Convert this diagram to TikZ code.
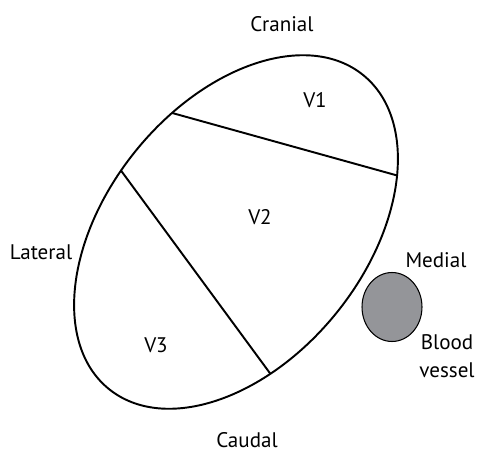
\documentclass[tikz,border=0pt]{standalone}
\usepackage{fontspec}
\setmainfont{PT Sans}
\usepackage{tikz}
\usepackage{xcolor}
\usetikzlibrary{positioning, shapes.geometric}

\definecolor{vesselgray}{RGB}{148,149,153}

\begin{document}
\begin{tikzpicture}[x=0.02cm, y=0.02cm, line width=1.1pt, font=\fontsize{12}{14}\selectfont]
    \useasboundingbox (0,0) rectangle (477,451);

    % Nerve outline and division points
    \begin{scope}[shift={(236,219)}, rotate=51]
        \draw (0,0) ellipse (202 and 129);
        \coordinate (a1) at (75:202 and 129);
        \coordinate (b1) at (-44:202 and 129);
        \coordinate (a2) at (97:202 and 129);
        \coordinate (b2) at (244:202 and 129);
    \end{scope}

    % Blood vessel
    \node[ellipse, draw, line width=0.6pt, fill=vesselgray, minimum width=1.2cm, minimum height=1.38cm, inner sep=0pt] (vessel) at (392,144) {};

    % Labels
    \node (cranial) at (282,427) {Cranial};
    \node (caudal)  at (247,11)  {Caudal};
    \node (lateral) at (41,199)  {Lateral};
    \node (medial)  at (436,191) {Medial};
    \node[align=center] (blood) at (447,95) {Blood\\[2pt]vessel};
    \node (v1) at (315,351) {V1};
    \node (v2) at (260,234) {V2};
    \node (v3) at (156,106) {V3};

    % Edges
    \draw (a1) -- (b1);
    \draw (a2) -- (b2);
\end{tikzpicture}
\end{document}
